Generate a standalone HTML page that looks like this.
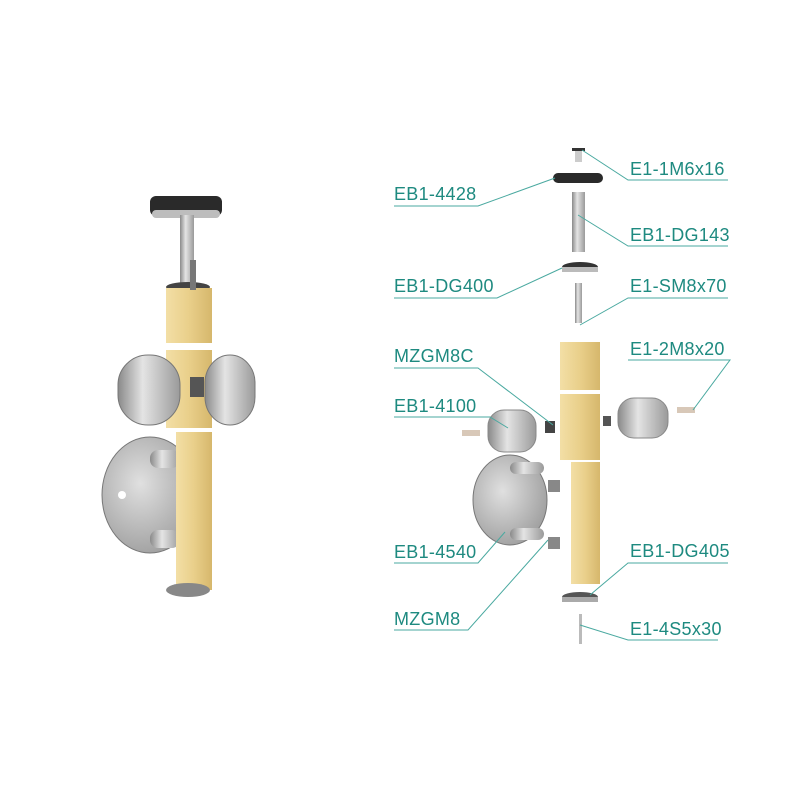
<!DOCTYPE html>
<html><head><meta charset="utf-8"><style>
html,body{margin:0;padding:0;background:#fff;}
svg{display:block}
text{font-family:"Liberation Sans",sans-serif;font-size:18px;fill:#1e8a80;letter-spacing:0.3px}
</style></head><body>
<svg width="800" height="800" viewBox="0 0 800 800" xmlns="http://www.w3.org/2000/svg">
<defs>
<linearGradient id="wood" x1="0" x2="1"><stop offset="0" stop-color="#f3dfa6"/><stop offset="0.5" stop-color="#e9cf8a"/><stop offset="1" stop-color="#d6b76c"/></linearGradient>
<linearGradient id="steel" x1="0" x2="1"><stop offset="0" stop-color="#8a8a8a"/><stop offset="0.4" stop-color="#e4e4e4"/><stop offset="1" stop-color="#9a9a9a"/></linearGradient>
<radialGradient id="disc" cx="0.4" cy="0.4" r="0.7"><stop offset="0" stop-color="#e0e0e0"/><stop offset="1" stop-color="#9a9a9a"/></radialGradient>
</defs>

<!-- LEFT ASSEMBLY -->
<ellipse cx="150" cy="495" rx="48" ry="58" fill="url(#disc)" stroke="#777" stroke-width="1"/>
<circle cx="122" cy="495" r="4" fill="#fff"/>
<rect x="150" y="450" width="30" height="18" rx="8" fill="url(#steel)"/>
<rect x="150" y="530" width="30" height="18" rx="8" fill="url(#steel)"/>
<rect x="176" y="455" width="14" height="12" fill="#666"/>
<rect x="176" y="535" width="14" height="12" fill="#666"/>
<rect x="150" y="196" width="72" height="20" rx="6" fill="#2a2a2a"/>
<rect x="152" y="210" width="68" height="8" rx="4" fill="#bdbdbd"/>
<rect x="180" y="215" width="14" height="72" fill="url(#steel)"/>
<ellipse cx="188" cy="287" rx="22" ry="5" fill="#444"/>
<rect x="166" y="288" width="46" height="55" fill="url(#wood)"/>
<rect x="166" y="350" width="46" height="78" fill="url(#wood)"/>
<rect x="176" y="432" width="36" height="158" fill="url(#wood)"/>
<rect x="118" y="355" width="62" height="70" rx="30" fill="url(#steel)" stroke="#777"/>
<rect x="205" y="355" width="50" height="70" rx="28" fill="url(#steel)" stroke="#777"/>
<rect x="190" y="377" width="14" height="20" fill="#555"/>
<rect x="190" y="260" width="6" height="30" fill="#777"/>
<ellipse cx="188" cy="590" rx="22" ry="7" fill="#888"/>

<!-- RIGHT EXPLODED -->
<rect x="575" y="150" width="7" height="12" fill="#ccc"/><rect x="572" y="148" width="13" height="3" fill="#333"/>
<rect x="553" y="173" width="50" height="10" rx="5" fill="#2a2a2a"/>
<rect x="572" y="192" width="13" height="60" fill="url(#steel)"/>
<ellipse cx="580" cy="267" rx="18" ry="5" fill="#333"/><rect x="562" y="267" width="36" height="5" fill="#bbb"/>
<rect x="575" y="283" width="7" height="40" fill="url(#steel)"/>
<rect x="560" y="342" width="40" height="48" fill="url(#wood)"/>
<rect x="560" y="394" width="40" height="66" fill="url(#wood)"/>
<rect x="571" y="462" width="29" height="122" fill="url(#wood)"/>
<rect x="488" y="410" width="48" height="42" rx="16" fill="url(#steel)" stroke="#888"/>
<rect x="618" y="398" width="50" height="40" rx="16" fill="url(#steel)" stroke="#888"/>
<rect x="545" y="421" width="10" height="12" fill="#444"/>
<rect x="603" y="416" width="8" height="10" fill="#555"/>
<rect x="462" y="430" width="18" height="6" fill="#d8c8b8"/>
<rect x="677" y="407" width="18" height="6" fill="#d8c8b8"/>
<ellipse cx="510" cy="500" rx="37" ry="45" fill="url(#disc)" stroke="#777"/>
<rect x="510" y="462" width="34" height="12" rx="6" fill="url(#steel)"/>
<rect x="510" y="528" width="34" height="12" rx="6" fill="url(#steel)"/>
<rect x="548" y="480" width="12" height="12" fill="#888"/>
<rect x="548" y="537" width="12" height="12" fill="#888"/>
<ellipse cx="580" cy="597" rx="18" ry="5" fill="#555"/><rect x="562" y="597" width="36" height="5" fill="#aaa"/>
<rect x="579" y="614" width="3" height="30" fill="#bbb"/>

<!-- LEADERS -->
<g stroke="#4aa9a0" stroke-width="1" fill="none">
<polyline points="582,150 628,180 728,180"/>
<polyline points="555,178 478,206 394,206"/>
<polyline points="578,215 628,246 728,246"/>
<polyline points="562,268 497,298 394,298"/>
<polyline points="580,325 628,298 728,298"/>
<polyline points="553,425 478,368 394,368"/>
<polyline points="693,410 730,360 628,360"/>
<polyline points="508,428 490,417 394,417"/>
<polyline points="505,532 478,563 394,563"/>
<polyline points="590,595 628,563 728,563"/>
<polyline points="548,540 468,630 394,630"/>
<polyline points="580,625 628,640 718,640"/>
</g>

<text x="630" y="175">E1-1M6x16</text>
<text x="394" y="200">EB1-4428</text>
<text x="630" y="241">EB1-DG143</text>
<text x="394" y="292">EB1-DG400</text>
<text x="630" y="292">E1-SM8x70</text>
<text x="394" y="362">MZGM8C</text>
<text x="630" y="355">E1-2M8x20</text>
<text x="394" y="412">EB1-4100</text>
<text x="394" y="558">EB1-4540</text>
<text x="630" y="557">EB1-DG405</text>
<text x="394" y="625">MZGM8</text>
<text x="630" y="635">E1-4S5x30</text>
</svg>
</body></html>
